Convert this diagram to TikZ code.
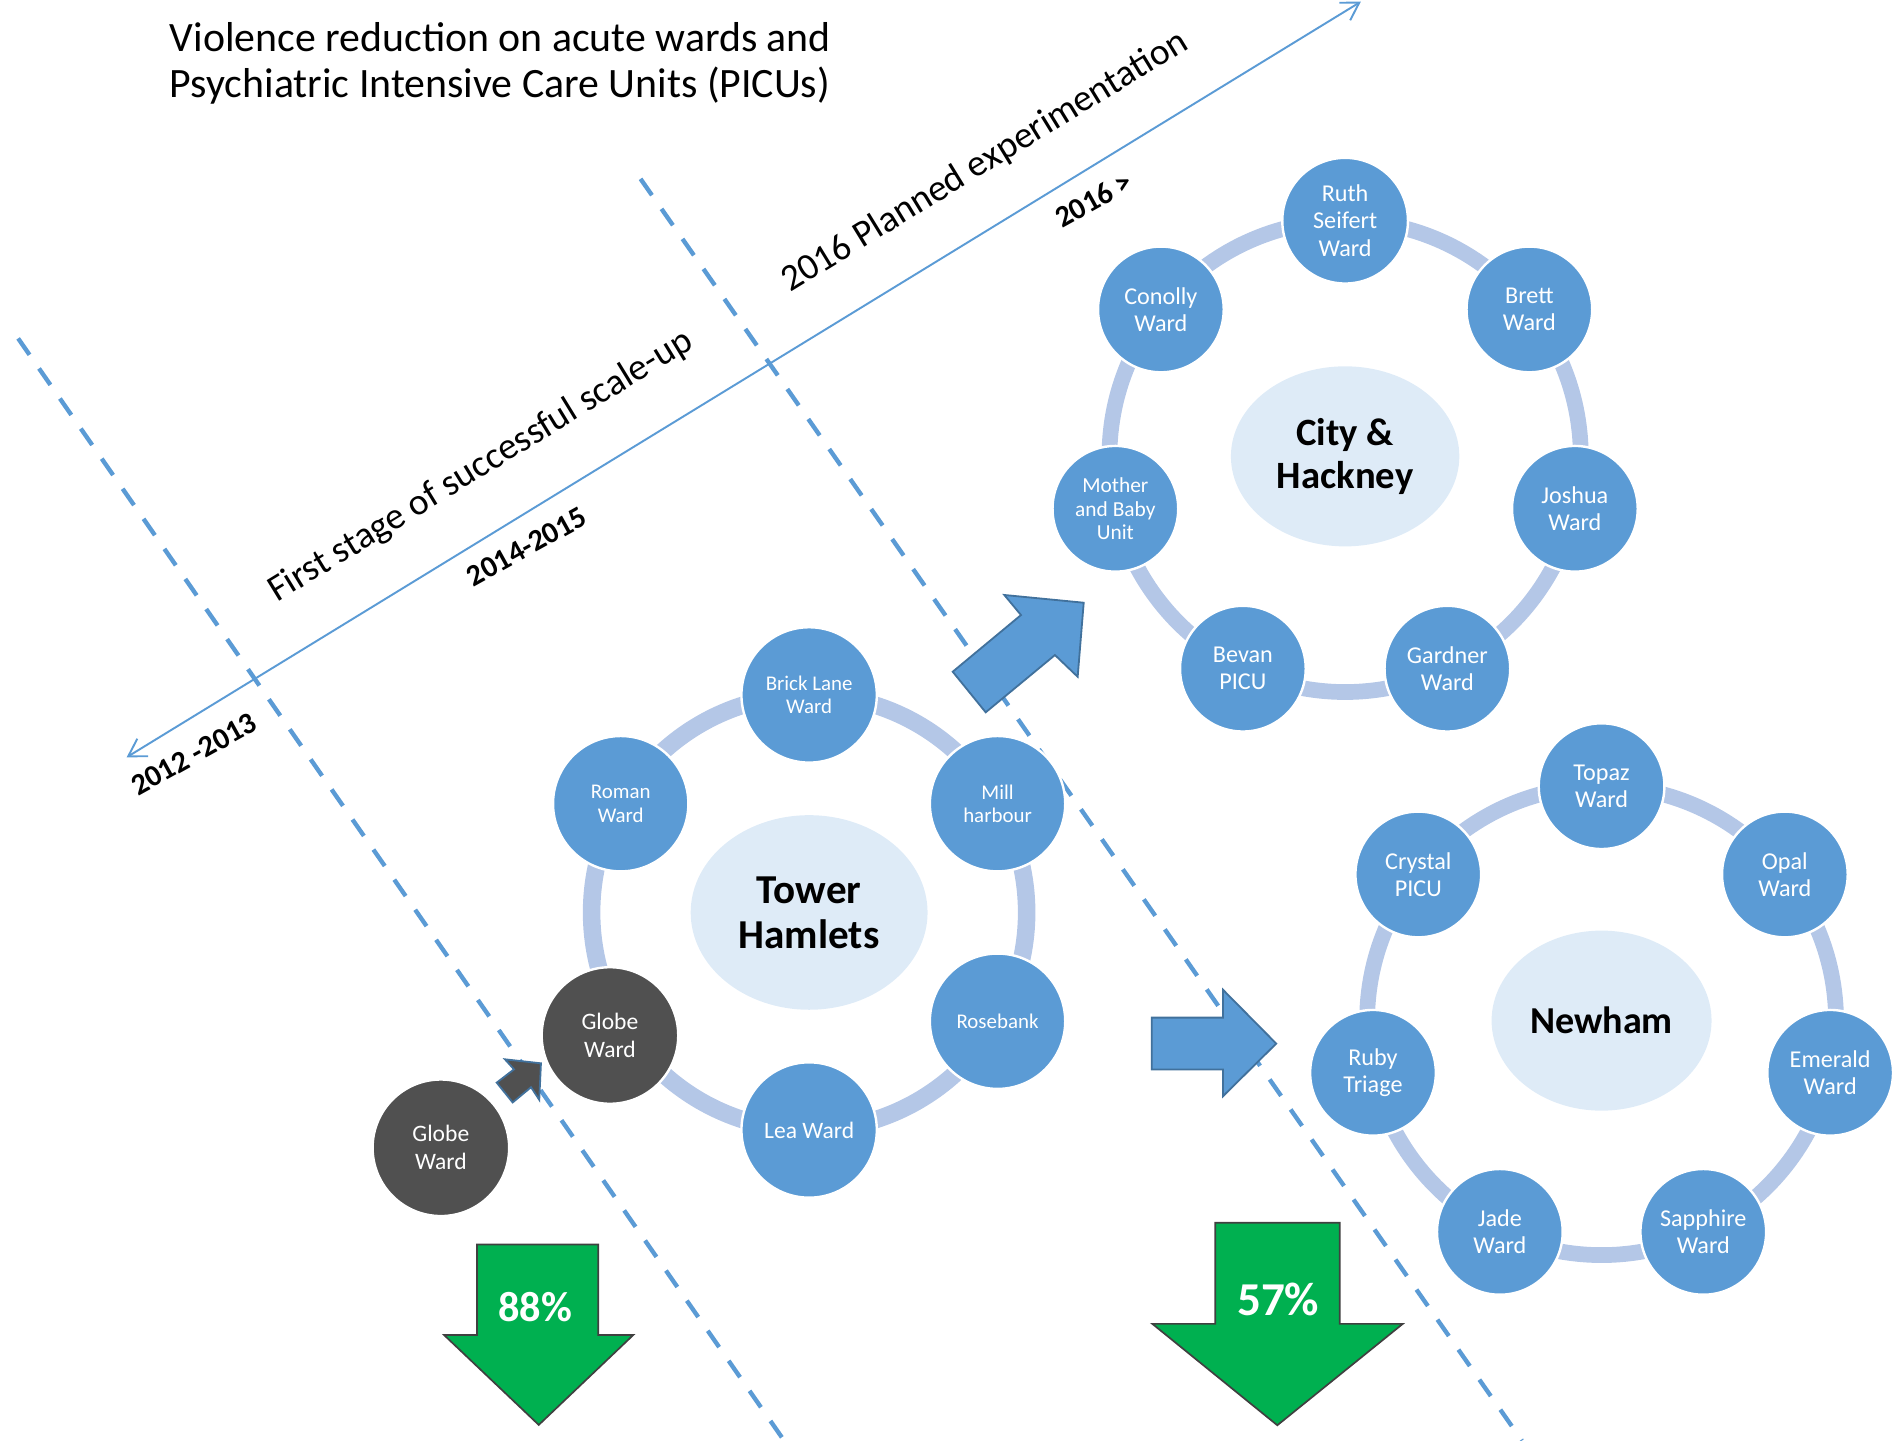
\documentclass[tikz,border=0pt]{standalone}
\usepackage{fontspec}
\setmainfont{Carlito}
\usetikzlibrary{arrows.meta,shapes.geometric}

\definecolor{accent}{HTML}{5B9BD5}
\definecolor{accentdark}{HTML}{41719C}
\definecolor{ringblue}{HTML}{B4C7E7}
\definecolor{hubblue}{HTML}{DEEBF7}
\definecolor{wardgrey}{HTML}{505050}
\definecolor{dropgreen}{HTML}{00B050}
\definecolor{dropedge}{HTML}{404040}

\newcommand\titletxt{\fontsize{34.6}{38.5}\selectfont}
\newcommand\phasetxt{\fontsize{31}{36}\selectfont}
\newcommand\yeartxt{\fontsize{25}{28}\selectfont\bfseries}
\newcommand\hubtxt[1]{\fontsize{#1}{1.1\dimexpr#1pt\relax}\selectfont\bfseries}
\newcommand\wardtxt{\fontsize{20}{22.5}\selectfont}
\newcommand\smallwardtxt{\fontsize{17.3}{19.5}\selectfont}

\begin{document}
\begin{tikzpicture}[x=1pt,y=-1pt,
  ward/.style={circle, fill=accent, draw=white, line width=2pt, text=white,
    align=center, inner sep=0pt, minimum size=#1, font=\wardtxt},
  ward/.default=104pt,
  greyward/.style={ward=113pt, fill=wardgrey, font=\fontsize{19.5}{23}\selectfont},
  hub/.style={ellipse, fill=hubblue, inner sep=0pt, align=center},
  ringline/.style={draw=ringblue, line width=#1},
  ringline/.default=13pt,
  divider/.style={draw=accent, line width=3.6pt, dash pattern=on 16.5pt off 13.8pt},
  timeline/.style={draw=accent, line width=1.6pt},
  blockblue/.style={fill=accent, draw=accentdark, line width=1.5pt, line join=miter},
  blockgrey/.style={fill=wardgrey, draw=accentdark, line width=1.5pt, line join=miter},
  blockgreen/.style={fill=dropgreen, draw=dropedge, line width=1.4pt, line join=miter},
  phase/.style={font=\phasetxt, inner sep=0pt, rotate=31.5},
  year/.style={font=\yeartxt, inner sep=0pt, rotate=29},
  drop/.style={text=white, inner sep=0pt, font=\bfseries},
]
\useasboundingbox (0,0) rectangle (1568,1192);

% ---- phase dividers ----
\coordinate (divA1) at (15,280);
\coordinate (divA2) at (648.8,1192);
\coordinate (divB1) at (530,148);
\coordinate (divB2) at (1259.3,1192);
\draw[divider] (divA1) -- (divA2);
\draw[divider] (divB1) -- (divB2);

% ---- timeline ----
\coordinate (tlStart) at (104.8,626.6);
\coordinate (tlEnd) at (1126,1.4);
\draw[timeline, {Straight Barb[length=14pt,width=17pt]}-{Straight Barb[length=14pt,width=17pt]}]
  (tlStart) -- (tlEnd);

% ---- title ----
\node[anchor=north west, align=left, inner sep=0pt, font=\titletxt] (title)
  at (140.4,18.2) {Violence reduction on acute wards and\\Psychiatric Intensive Care Units (PICUs)};

% ---- phase labels ----
\node[phase] (phase1) at (398,386) {First stage of successful scale-up};
\node[phase] (phase2) at (815,134) {2016 Planned experimentation};
\node[year] (y1) at (160.5,624) {2012 -2013};
\node[year] (y2) at (435.8,452.3) {2014-2015};
\node[year] (y3) at (905,165) {2016 >};

% ---- Tower Hamlets ----
\coordinate (thc) at (669.5,755);
\draw[ringline=14.5pt] (thc) circle[radius=180];
\node[hub, minimum width=196pt, minimum height=161pt, font=\hubtxt{34}] (th) at (thc) {Tower\\Hamlets};
\node[ward=112pt, font=\smallwardtxt] (brick) at (669.5,575) {Brick Lane\\Ward};
\node[ward=112pt, font=\smallwardtxt] (mill) at (825.4,665) {Mill\\harbour};
\node[ward=112pt, font=\smallwardtxt] (rose) at (825.4,845) {Rosebank};
\node[ward=112pt, font=\fontsize{19.5}{23}\selectfont] (lea) at (669.5,935) {Lea Ward};
\node[greyward] (globe) at (504.7,856.8) {Globe\\Ward};
\node[ward=112pt, font=\smallwardtxt] (roman) at (513.6,665) {Roman\\Ward};

% earlier Globe Ward and its move into the network
\node[greyward] (globeold) at (364.8,949.7) {Globe\\Ward};
\draw[blockgrey] (411,895.8) -- (425.3,884.8) -- (417.8,876.5) -- (447.6,879.8)
  -- (446.2,910) -- (439.4,899.6) -- (424.2,912.2) -- cycle;

% ---- City & Hackney ----
\coordinate (chc) at (1113,377.6);
\draw[ringline] (chc) circle[radius=195];
\node[hub, minimum width=189pt, minimum height=149pt, font=\hubtxt{32}] (ch) at (chc) {City \&\\Hackney};
\node[ward] (ruth)    at ([shift={(-90:195)}]chc)      {Ruth\\Seifert\\Ward};
\node[ward] (brett)   at ([shift={(-38.571:195)}]chc)  {Brett\\Ward};
\node[ward] (joshua)  at ([shift={(12.857:195)}]chc)   {Joshua\\Ward};
\node[ward] (gardner) at ([shift={(64.286:195)}]chc)   {Gardner\\Ward};
\node[ward] (bevan)   at ([shift={(115.714:195)}]chc)  {Bevan\\PICU};
\node[ward, font=\fontsize{17.7}{19.5}\selectfont] (mother) at ([shift={(167.143:195)}]chc) {Mother\\and Baby\\Unit};
\node[ward] (conolly) at ([shift={(-141.429:195)}]chc) {Conolly\\Ward};

% ---- Newham ----
\coordinate (nhc) at (1325.2,844.5);
\draw[ringline] (nhc) circle[radius=194];
\node[hub, minimum width=182pt, minimum height=149pt, font=\hubtxt{31.5}] (nh) at (nhc) {Newham};
\node[ward] (topaz)    at ([shift={(-90:194)}]nhc)      {Topaz\\Ward};
\node[ward] (opal)     at ([shift={(-38.571:194)}]nhc)  {Opal\\Ward};
\node[ward] (emerald)  at ([shift={(12.857:194)}]nhc)   {Emerald\\Ward};
\node[ward] (sapphire) at ([shift={(64.286:194)}]nhc)   {Sapphire\\Ward};
\node[ward] (jade)     at ([shift={(115.714:194)}]nhc)  {Jade\\Ward};
\node[ward] (ruby)     at ([shift={(167.143:194)}]nhc)  {Ruby\\Triage};
\node[ward] (crystal)  at ([shift={(-141.429:194)}]nhc) {Crystal\\PICU};

% ---- scale-up arrows ----
\draw[blockblue] (788.3,555.8) -- (844.8,508.9) -- (831,492.3) -- (896.7,498.7)
  -- (891.7,560) -- (872.9,542) -- (815.6,589.4) -- cycle;
\draw[blockblue] (953,842) -- (1012,842) -- (1012,819) -- (1056,863.5)
  -- (1012,907) -- (1012,885) -- (953,885) -- cycle;

% ---- reductions ----
\draw[blockgreen] (394.7,1029.7) -- (495,1029.7) -- (495,1104.6) -- (524,1104.6)
  -- (445.8,1179) -- (367.4,1104.6) -- (394.7,1104.6) -- cycle;
\node[drop, font=\fontsize{35}{40}\selectfont\bfseries] (red1) at (442.7,1081.5) {88\%};
\draw[blockgreen] (1005.6,1011.8) -- (1108.6,1011.8) -- (1108.6,1095.4) -- (1160.7,1095.4)
  -- (1056.9,1179.3) -- (953.5,1095.4) -- (1005.6,1095.4) -- cycle;
\node[drop, font=\fontsize{39}{44}\selectfont\bfseries] (red2) at (1057.6,1075.5) {57\%};
\end{tikzpicture}
\end{document}
